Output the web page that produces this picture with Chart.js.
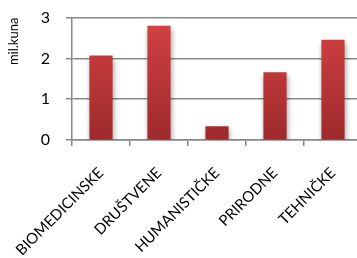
<!DOCTYPE html>
<html><head><meta charset="utf-8">
<script src="https://cdn.jsdelivr.net/npm/chart.js@4/dist/chart.umd.min.js"></script>
<style>html,body{margin:0;padding:0;background:#fff;overflow:hidden;width:357px;height:258px;position:relative}
#c{position:absolute;left:0;top:-8px}</style>
</head><body>
<canvas id="c" width="362" height="266"></canvas>
<script>
const categories = ["BIOMEDICINSKE","DRUŠTVENE","HUMANISTIČKE","PRIRODNE","TEHNIČKE"];
const values = [2.07, 2.8, 0.34, 1.66, 2.46];
const yTicks = [0,1,2,3];
const yTitle = "mil.kuna";
const FONT = "Lato, 'Open Sans', sans-serif";

const shadowPlugin = {
  id:'shadow',
  beforeDatasetDraw(chart){const c=chart.ctx;c.save();c.shadowColor='rgba(0,0,0,0.35)';c.shadowBlur=5;c.shadowOffsetX=1;c.shadowOffsetY=3;},
  afterDatasetDraw(chart){chart.ctx.restore();}
};

new Chart(document.getElementById('c'),{
  type:'bar',
  data:{labels:categories,datasets:[{data:values,
    backgroundColor:(ctx)=>{
      const a=ctx.chart.chartArea; if(!a) return '#c0393b';
      const g=ctx.chart.ctx.createLinearGradient(0,a.top,0,a.bottom);
      g.addColorStop(0,'#d44243');g.addColorStop(1,'#9e2a2c');return g;},
    barPercentage:0.4,categoryPercentage:1}]},
  options:{responsive:false,animation:false,
    layout:{padding:{top:0,right:0,left:0,bottom:0}},
    plugins:{legend:{display:false},tooltip:{enabled:false}},
    scales:{
      x:{grid:{offset:true,drawOnChartArea:false,drawTicks:true,tickLength:6,color:'#888',lineWidth:1.5},
         border:{display:true,color:'#888',width:1.5},
         afterFit:(s)=>{s.height=118;s.paddingLeft=0;s.paddingRight=0;},
         ticks:{color:'#000',font:{family:FONT,size:15},minRotation:45,maxRotation:45,autoSkip:false,padding:18}},
      y:{min:0,max:3,afterBuildTicks:(ax)=>{ax.ticks=yTicks.map(v=>({value:v}));},
         afterFit:(s)=>{s.width=72;},
         grid:{color:'#888',lineWidth:1.5,drawTicks:true,tickLength:6},
         border:{display:true,color:'#888',width:1.5},
         ticks:{color:'#000',font:{family:FONT,size:16},padding:16},
         title:{display:true,text:yTitle,align:'end',color:'#000',font:{family:FONT,size:13},padding:{top:6,bottom:4}}}
    }},
  plugins:[shadowPlugin]
});
</script>
</body></html>
